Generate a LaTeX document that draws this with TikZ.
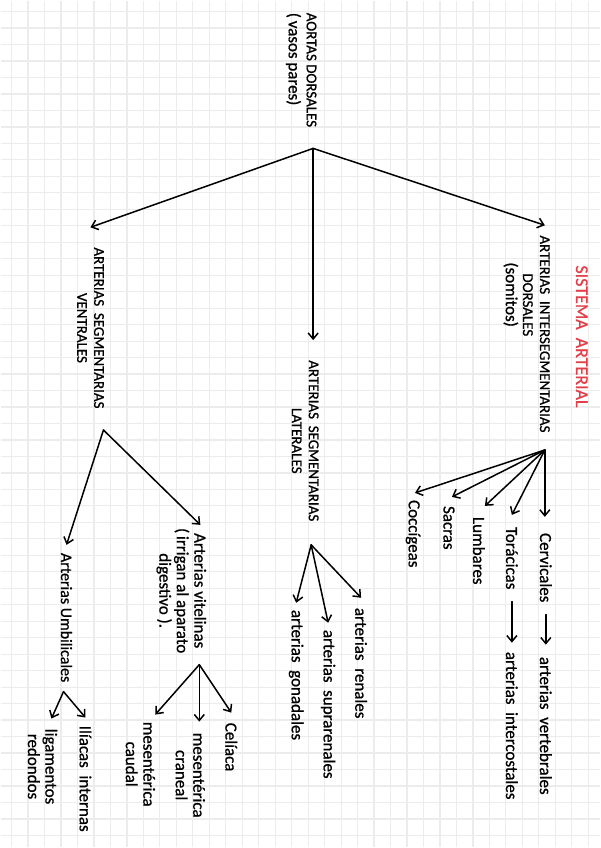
\documentclass[tikz,border=0pt]{standalone}
\usepackage{fontspec}
\setmainfont{Carlito}[FakeBold=0.8]
\newfontfamily\widefont{Carlito}[WordSpace=2, FakeBold=0.8]
\usepackage{xcolor}
\usepackage{tikz}
\usetikzlibrary{arrows.meta}
\definecolor{redpen}{RGB}{228,62,72}
\definecolor{gridgray}{RGB}{236,236,236}

\begin{document}
\begin{tikzpicture}[
  x=1pt, y=-1pt,
  every node/.style={rotate=-90, anchor=west, inner sep=0pt, text=black},
  caps/.style={font=\widefont\fontsize{15}{17}\selectfont},
  hand/.style={font=\widefont\fontsize{17}{17.5}\selectfont},
  plain/.style={font=\fontsize{17}{17.5}\selectfont},
  arr/.style={-{Straight Barb[length=6pt,width=10pt]}, line width=1.5pt, line cap=round}
]
\fill[white] (0,0) rectangle (600,848);
\foreach \k in {0,...,35} \draw[gridgray, line width=1.2pt] (11+16.5*\k,0) -- (11+16.5*\k,848);
\foreach \k in {0,...,50} \draw[gridgray, line width=1.2pt] (0,11+16.5*\k) -- (600,11+16.5*\k);
\useasboundingbox (0,0) rectangle (600,848);

\node[text=redpen, font=\widefont\fontsize{18}{20}\selectfont] (titulo) at (582,265) {SISTEMA ARTERIAL};

\node[font=\fontsize{15}{18}\selectfont, align=left] (aortas) at (301,12) {AORTAS DORSALES\\\fontsize{17}{17}\selectfont(\,vasos pares)};
\coordinate (b0) at (313,148);

\node[caps, align=center] (vent) at (90,247) {ARTERIAS SEGMENTARIAS\\VENTRALES};
\node[caps, align=center] (lat) at (305,360) {ARTERIAS SEGMENTARIAS\\LATERALES};
\node[caps] (inter) at (545,235) {ARTERIAS INTERSEGMENTARIAS};
\node[caps] (inter2) at (528,273) {DORSALES};
\node[hand] (inter3) at (511,262) {(somitos)};
\draw[arr] (b0) -- ([yshift=20pt]vent.west);
\draw[arr, shorten >=20pt] (b0) -- (b0 |- lat.west);
\draw[arr] (b0) -- ([yshift=10pt]inter.west);

\coordinate (bR) at (545,450);
\node[hand] (cerv) at (546,533) {Cervicales};
\node[hand] (tor) at (512,527) {Torácicas};
\node[hand] (lum) at (479,517) {Lumbares};
\node[hand] (sac) at (449,506) {Sacras};
\node[hand] (coc) at (413,500) {Coccígeas};
\node[hand] (vert) at (546,657) {arterias vertebrales};
\node[hand] (intc) at (512,652) {arterias intercostales};
\draw[arr, shorten >=16pt] (bR) -- (bR |- cerv.west);
\draw[arr] (bR) -- ([yshift=12pt]tor.west);
\draw[arr] (bR) -- ([xshift=6pt,yshift=11pt]lum.west);
\draw[arr] (bR) -- ([xshift=3pt,yshift=9pt]sac.west);
\draw[arr] (bR) -- ([xshift=2pt,yshift=7pt]coc.west);
\draw[arr] ([yshift=-12pt]cerv.east) -- ([yshift=12pt]vert.west);
\draw[arr] ([yshift=-12pt]tor.east) -- ([yshift=9pt]intc.west);

\coordinate (bM) at (311,545);
\node[hand] (gon) at (296,610) {arterias gonadales};
\node[hand] (sup) at (328,630) {arterias suprarenales};
\node[hand] (ren) at (361,608) {arterias renales};
\draw[arr] (bM) -- ([yshift=7pt]gon.west);
\draw[arr] (bM) -- ([yshift=7pt]sup.west);
\draw[arr] (bM) -- ([yshift=10pt]ren.west);

\coordinate (bL) at (103,430);
\node[plain, font=\fontsize{16}{17}\selectfont] (umb) at (66,553) {Arterias Umbilicales};
\node[plain, align=center] (vit) at (181,528) {Arterias vitelinas\\(\,irrigan al aparato\\digestivo ).};
\draw[arr] (bL) -- ([yshift=8pt]umb.west);
\draw[arr] (bL) -- ([shift={(-6pt,3pt)}]vit.north west);

\coordinate (bV) at (199,665);
\node[plain] (cel) at (231,723) {Celíaca};
\node[plain, align=center] (mcr) at (190,733) {mesentérica\\craneal};
\node[plain, align=center] (mca) at (140,722) {mesentérica\\caudal};
\draw[arr] (bV) -- ([yshift=10pt]cel.west);
\draw[arr, shorten >=11pt] (bV) -- (bV |- mcr.west);
\draw[arr] (bV) -- ([yshift=7pt]mca.north west);

\coordinate (bU) at (63,692);
\node[hand] (ili) at (85,726) {Ilíacas internas};
\node[plain, align=center] (lig) at (42,729) {ligamentos\\redondos};
\draw[arr] (bU) -- ([yshift=8pt]ili.west);
\draw[arr] (bU) -- ([shift={(-6pt,10pt)}]lig.north west);
\end{tikzpicture}
\end{document}
